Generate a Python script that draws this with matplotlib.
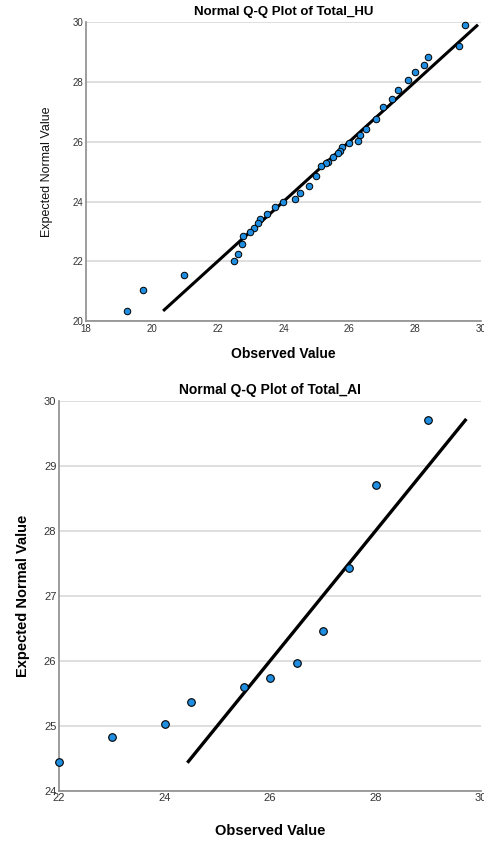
import matplotlib.pyplot as plt

# Datos: Total_HU
hu_observed = [29.50, 29.32, 28.39, 28.28, 28.00, 27.79, 27.49, 27.29, 27.01, 26.80,
               26.51, 26.31, 26.26, 26.00, 25.79, 25.72, 25.64, 25.50, 25.35, 25.29,
               25.14, 24.99, 24.76, 24.50, 24.36, 24.00, 23.74, 23.49, 23.29, 23.24,
               23.12, 22.98, 22.78, 22.75, 22.62, 22.50, 20.99, 19.74, 19.24]
hu_expected = [29.89, 29.21, 28.82, 28.55, 28.34, 28.07, 27.73, 27.41, 27.17, 26.77,
               26.41, 26.21, 26.01, 25.94, 25.82, 25.70, 25.61, 25.47, 25.32, 25.27,
               25.18, 24.85, 24.52, 24.28, 24.09, 23.99, 23.80, 23.59, 23.41, 23.27,
               23.12, 22.99, 22.84, 22.58, 22.25, 22.01, 21.56, 21.04, 20.34]
hu_line = [20.38, 29.87]

# Datos: Total_AI
ai_observed = [29.0, 28.0, 27.5, 27.0, 26.5, 26.0, 25.5, 24.5, 24.0, 23.0, 22.0]
ai_expected = [29.71, 28.71, 27.42, 26.45, 25.96, 25.73, 25.60, 25.36, 25.03, 24.82, 24.44]
ai_line = [24.45, 29.70]

plt.rcParams['font.family'] = ['Liberation Sans', 'DejaVu Sans']

fig = plt.figure(figsize=(4.85, 8.41), dpi=100)

punto = '#1f8ee0'
gris = '#8c8c8c'


def estilo(ax, fs):
    for s in ['top', 'right']:
        ax.spines[s].set_visible(False)
    for s in ['left', 'bottom']:
        ax.spines[s].set_color(gris)
        ax.spines[s].set_linewidth(1.2)
    ax.tick_params(length=0, labelsize=fs, colors='#333333', pad=2)
    ax.grid(axis='y', color='#d9d9d9', linewidth=1.2)
    ax.set_axisbelow(True)


# Grafico superior
ax1 = fig.add_axes([0.177, 0.618, 0.815, 0.356])
estilo(ax1, 7)
ax1.plot(hu_line, hu_line, color='black', linewidth=2.2, zorder=2)
ax1.scatter(hu_observed, hu_expected, s=22, color=punto, edgecolors='black',
            linewidths=0.7, zorder=3, clip_on=False)
ax1.set_xlim(18, 30)
ax1.set_ylim(20, 30)
ax1.set_xticks([18, 20, 22, 24, 26, 28, 30])
ax1.set_yticks([20, 22, 24, 26, 28, 30])
ax1.set_title('Normal Q-Q Plot of Total_HU', fontsize=9.5, fontweight='bold', pad=5)
ax1.set_xlabel('Observed Value', fontsize=10, fontweight='bold', labelpad=9)
ax1.set_ylabel('Expected Normal Value', fontsize=9, color='#111111',
               family=['Liberation Sans Narrow', 'Liberation Sans'], labelpad=14)

# Grafico inferior
ax2 = fig.add_axes([0.122, 0.0598, 0.870, 0.4637])
estilo(ax2, 8)
ax2.plot(ai_line, ai_line, color='black', linewidth=2.4, zorder=2)
ax2.scatter(ai_observed, ai_expected, s=30, color=punto, edgecolors='black',
            linewidths=0.8, zorder=3, clip_on=False)
ax2.set_xlim(22, 30)
ax2.set_ylim(24, 30)
ax2.set_xticks([22, 24, 26, 28, 30])
ax2.set_yticks([24, 25, 26, 27, 28, 29, 30])
ax2.set_title('Normal Q-Q Plot of Total_AI', fontsize=10, fontweight='bold', pad=5)
ax2.set_xlabel('Observed Value', fontsize=10.5, fontweight='bold', labelpad=15)
ax2.set_ylabel('Expected Normal Value', fontsize=10.5, fontweight='bold', labelpad=10)

fig.savefig('out.png', dpi=100)
